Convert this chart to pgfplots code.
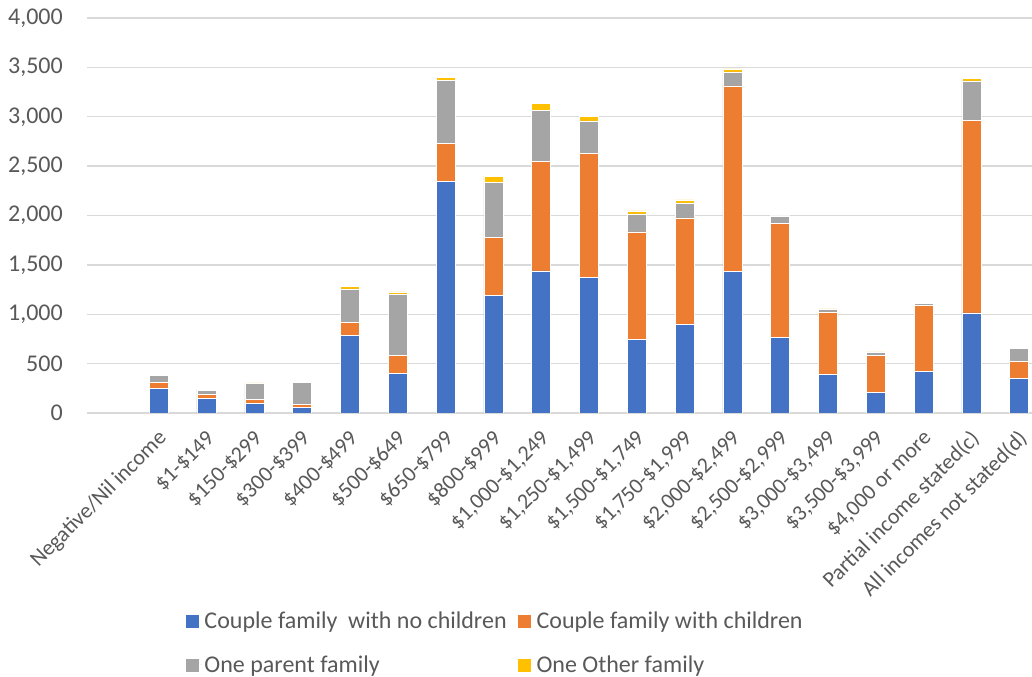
\documentclass[border=0pt]{standalone}
\usepackage{pgfplots}
\pgfplotsset{compat=1.18}
\usepackage{fontspec}
\setmainfont{Carlito}

\definecolor{cblue}{HTML}{4472C4}
\definecolor{corange}{HTML}{ED7D31}
\definecolor{cgray}{HTML}{A5A5A5}
\definecolor{cgold}{HTML}{FFC000}
\definecolor{ctext}{HTML}{595959}
\definecolor{cgrid}{HTML}{D9D9D9}

\newcommand{\chartfont}{\fontsize{18}{21}\selectfont}
\newcommand{\catfont}{\fontsize{16.5}{19}\selectfont}

\begin{document}
\begin{tikzpicture}
\useasboundingbox (-65.25pt,-198pt) rectangle (708.75pt,309.75pt);
\fill[white] (-65.25pt,-198pt) rectangle (708.75pt,309.75pt);
\begin{axis}[
  scale only axis,
  width=708.75pt, height=296.25pt,
  at={(0,0)}, anchor=south west,
  ybar stacked,
  bar width=14.25pt,
  xmin=-0.5, xmax=19.27,
  ymin=0, ymax=4000,
  ytick={0,500,...,4000},
  xtick={1,...,19},
  xticklabels={Negative/Nil income,{\$1-\$149},{\$150-\$299},{\$300-\$399},{\$400-\$499},{\$500-\$649},{\$650-\$799},{\$800-\$999},{\$1,000-\$1,249},{\$1,250-\$1,499},{\$1,500-\$1,749},{\$1,750-\$1,999},{\$2,000-\$2,499},{\$2,500-\$2,999},{\$3,000-\$3,499},{\$3,500-\$3,999},{\$4,000 or more},Partial income stated(c),All incomes not stated(d)},
  major tick length=0pt,
  axis line style={draw=none},
  ymajorgrids,
  grid style={cgrid, line width=1pt},
  tick label style={font=\chartfont, text=ctext},
  /pgf/number format/assume math mode=true,
  /pgf/number format/.cd, fixed, 1000 sep={,},
  /pgfplots/.cd,
  yticklabel style={anchor=east, inner sep=0pt, xshift=-18pt},
  xticklabel style={font=\catfont, anchor=east, inner sep=0pt, xshift=3.5pt, yshift=-16.5pt, rotate=45},
  legend columns=2,
  legend cell align=left,
  legend style={draw=none, fill=none, font=\chartfont, text=ctext,
    at={(0.0995,-0.49)}, anchor=north west,
    /tikz/every even column/.append style={column sep=6pt},
    row sep=14.5pt},
  legend image code/.code={\path (0pt,0pt) -- (12pt,0pt);\fill[#1] (0pt,-5.25pt) rectangle (10.5pt,5.25pt);},
  every axis plot/.append style={draw=white, line width=0.4pt},
]
% Couple family with no children
\addplot[fill=cblue] coordinates {(1,248) (2,147) (3,97) (4,60) (5,786) (6,399) (7,2342) (8,1189) (9,1438) (10,1377) (11,746) (12,897) (13,1431) (14,766) (15,393) (16,212) (17,423) (18,1014) (19,353)};
% Couple family with children
\addplot[fill=corange] coordinates {(1,60) (2,41) (3,44) (4,31) (5,131) (6,186) (7,390) (8,588) (9,1112) (10,1254) (11,1088) (12,1079) (13,1882) (14,1156) (15,631) (16,373) (17,666) (18,1949) (19,167)};
% One parent family
\addplot[fill=cgray] coordinates {(1,71) (2,44) (3,161) (4,221) (5,339) (6,621) (7,635) (8,558) (9,514) (10,326) (11,182) (12,151) (13,141) (14,74) (15,24) (16,26) (17,23) (18,400) (19,131)};
% One Other family
\addplot[fill=cgold] coordinates {(1,10) (2,10) (3,3) (4,7) (5,27) (6,20) (7,33) (8,64) (9,71) (10,47) (11,30) (12,30) (13,30) (14,6) (15,7) (16,7) (17,10) (18,27) (19,10)};
\legend{Couple family\ \ with no children, Couple family with children, One parent family, One Other family}
\end{axis}
\end{tikzpicture}
\end{document}
